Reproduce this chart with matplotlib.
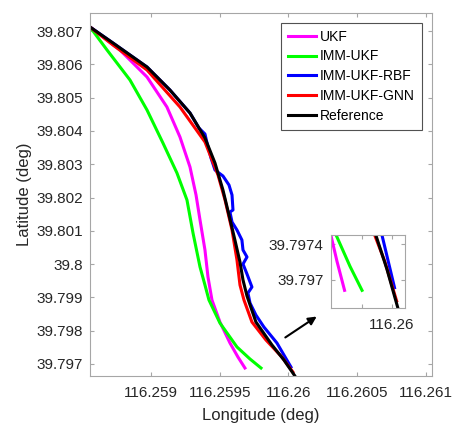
import numpy as np
import matplotlib
matplotlib.use('Agg')
import matplotlib.pyplot as plt

plt.rcParams['font.family'] = ['Liberation Sans', 'DejaVu Sans']

# trajectories (longitude, latitude)
ukf_lon = [116.258556, 116.258774, 116.258971, 116.259116, 116.259211, 116.259284, 116.259328,
           116.259357, 116.259393, 116.259415, 116.259444, 116.259502, 116.259575, 116.259633, 116.259684]
ukf_lat = [39.807120, 39.806429, 39.805619, 39.804718, 39.803817, 39.802916, 39.802075,
           39.801324, 39.800423, 39.799613, 39.798922, 39.798261, 39.797631, 39.797210, 39.796880]

imm_lon = [116.258556, 116.258680, 116.258847, 116.258971, 116.259087, 116.259189, 116.259262,
           116.259306, 116.259357, 116.259393, 116.259422, 116.259502, 116.259626, 116.259721, 116.259801]
imm_lat = [39.807120, 39.806429, 39.805529, 39.804628, 39.803637, 39.802736, 39.801925,
           39.800934, 39.799913, 39.799372, 39.798922, 39.798231, 39.797511, 39.797150, 39.796880]

rbf_lon = [116.258556, 116.258723, 116.258971, 116.259138, 116.259284, 116.259349, 116.259393,
           116.259408, 116.259437, 116.259466, 116.259524, 116.259568, 116.259590, 116.259597,
           116.259575, 116.259590, 116.259626, 116.259662, 116.259670, 116.259699, 116.259670,
           116.259699, 116.259721, 116.259735, 116.259706, 116.259721, 116.259764, 116.259822,
           116.259917, 116.260019]
rbf_lat = [39.807120, 39.806640, 39.805919, 39.805228, 39.804538, 39.804087, 39.803907,
           39.803637, 39.803186, 39.802826, 39.802646, 39.802375, 39.802075, 39.801625,
           39.801565, 39.801264, 39.801024, 39.800724, 39.800423, 39.800213, 39.800003,
           39.799703, 39.799463, 39.799312, 39.799132, 39.798832, 39.798471, 39.798111,
           39.797631, 39.796910]

gnn_lon = [116.258556, 116.258723, 116.258971, 116.259211, 116.259393, 116.259488, 116.259539,
           116.259590, 116.259626, 116.259648, 116.259677, 116.259735, 116.259837, 116.259953, 116.260033]
gnn_lat = [39.807120, 39.806580, 39.805829, 39.804718, 39.803667, 39.802676, 39.801925,
           39.801024, 39.800123, 39.799372, 39.798922, 39.798261, 39.797721, 39.797210, 39.796760]

ref_lon = [116.258556, 116.258723, 116.258971, 116.259138, 116.259284, 116.259393, 116.259466,
           116.259524, 116.259568, 116.259611, 116.259648, 116.259670, 116.259699, 116.259764,
           116.259881, 116.259968, 116.260048, 116.260063]
ref_lat = [39.807120, 39.806640, 39.805919, 39.805228, 39.804538, 39.803787, 39.803036,
           39.802225, 39.801474, 39.800724, 39.800063, 39.799523, 39.799042, 39.798261,
           39.797571, 39.797120, 39.796640, 39.796520]

series = [
    ('UKF', ukf_lon, ukf_lat, '#ff00ff'),
    ('IMM-UKF', imm_lon, imm_lat, '#00ff00'),
    ('IMM-UKF-RBF', rbf_lon, rbf_lat, '#0000ff'),
    ('IMM-UKF-GNN', gnn_lon, gnn_lat, '#ff0000'),
    ('Reference', ref_lon, ref_lat, '#000000'),
]

x_ticks = [116.259, 116.2595, 116.26, 116.2605, 116.261]
x_tick_labels = ['116.259', '116.2595', '116.26', '116.2605', '116.261']
y_ticks = [39.797, 39.798, 39.799, 39.8, 39.801, 39.802, 39.803, 39.804, 39.805, 39.806, 39.807]
y_tick_labels = ['39.797', '39.798', '39.799', '39.8', '39.801', '39.802', '39.803',
                 '39.804', '39.805', '39.806', '39.807']

inset_x_ticks = [116.2598, 116.26]
inset_x_tick_labels = ['', '116.26']
inset_y_ticks = [39.797, 39.7974]
inset_y_tick_labels = ['39.797', '39.7974']

text_color = '#262626'
axis_color = '#a6a6a6'


def style_axes(ax, fs):
    for s in ax.spines.values():
        s.set_color(axis_color)
        s.set_linewidth(0.8)
    ax.tick_params(direction='in', length=3, width=0.8, color=axis_color,
                   labelcolor=text_color, labelsize=fs, top=True, right=True)


fig = plt.figure(figsize=(4.53, 4.26), dpi=100)
ax = fig.add_axes([0.1987, 0.1174, 0.7543, 0.8528])
for name, lon, lat, c in series:
    ax.plot(lon, lat, color=c, lw=2.2, label=name)
ax.set_xlim(116.258556, 116.261044)
ax.set_ylim(39.79664, 39.80755)
ax.set_xticks(x_ticks)
ax.set_xticklabels(x_tick_labels)
ax.set_yticks(y_ticks)
ax.set_yticklabels(y_tick_labels)
style_axes(ax, 11)
ax.tick_params(axis='x', pad=7)
ax.tick_params(axis='y', pad=5)
ax.set_xlabel('Longitude (deg)', fontsize=12, color=text_color, labelpad=6)
ax.set_ylabel('Latitude (deg)', fontsize=12, color=text_color, labelpad=3)

leg = ax.legend(loc='upper right', bbox_to_anchor=(422 / 453, 1 - 22.7 / 426),
                bbox_transform=fig.transFigure, fontsize=10, fancybox=False,
                handlelength=2.0, labelspacing=0.42, borderpad=0.5, handletextpad=0.3,
                borderaxespad=0)
leg.get_frame().set_edgecolor('#262626')
leg.get_frame().set_linewidth(0.8)
for t in leg.get_texts():
    t.set_color('#000000')

# zoomed inset near the end of the trajectories
axi = fig.add_axes([0.730, 0.277, 0.164, 0.172])
for name, lon, lat, c in series:
    axi.plot(lon, lat, color=c, lw=2.2)
axi.set_xlim(116.259591, 116.260089)
axi.set_ylim(39.79668, 39.79751)
axi.set_xticks(inset_x_ticks)
axi.set_xticklabels(inset_x_tick_labels)
axi.set_yticks(inset_y_ticks)
axi.set_yticklabels(inset_y_tick_labels)
style_axes(axi, 11)
axi.tick_params(axis='x', pad=7)
axi.tick_params(axis='y', pad=5)

ax.annotate('', xy=(319 / 453, 1 - 315 / 426), xytext=(283 / 453, 1 - 339 / 426),
            xycoords='figure fraction', textcoords='figure fraction',
            arrowprops=dict(arrowstyle='-|>', color='black', lw=1.5, mutation_scale=12))

plt.savefig('out.png', dpi=100)
